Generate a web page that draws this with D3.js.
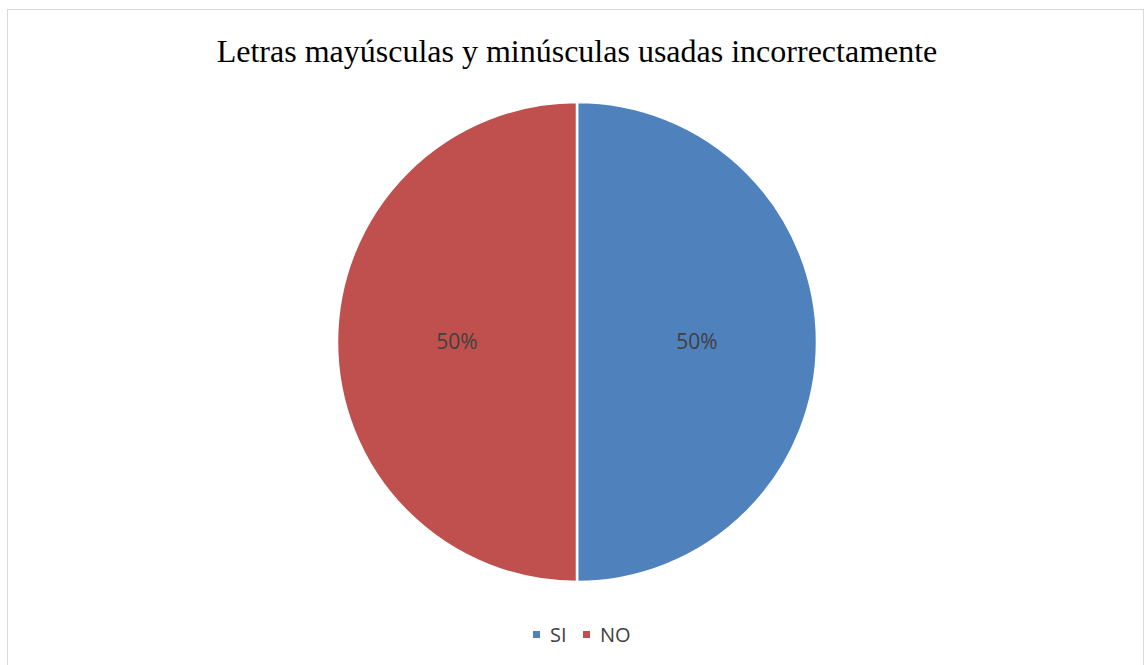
<!DOCTYPE html>
<html><head><meta charset="utf-8">
<script src="https://cdn.jsdelivr.net/npm/d3@7"></script>
<style>body{margin:0;background:#fff;}svg{display:block;}</style>
</head><body>
<svg id="c" width="1146" height="665"></svg>
<script>
const categories = ["SI", "NO"];
const values = [50, 50];
const colors = ["#4F81BD", "#C0504D"];
const title = "Letras mayúsculas y minúsculas usadas incorrectamente";

const svg = d3.select("#c");
svg.append("rect").attr("x", 7.5).attr("y", 9.5).attr("width", 1136).attr("height", 670)
  .attr("fill", "#fff").attr("stroke", "#d9d9d9").attr("stroke-width", 1);

svg.append("text").attr("x", 577).attr("y", 62).attr("text-anchor", "middle")
  .attr("font-family", "'Liberation Serif','Times New Roman',serif").attr("font-size", 32)
  .attr("fill", "#000").text(title);

const cx = 577, cy = 342, r = 240;
const pie = d3.pie().sort(null).value(d => d);
const arcs = pie(values);
const arc = d3.arc().innerRadius(0).outerRadius(r);
const labelArc = d3.arc().innerRadius(r * 0.5).outerRadius(r * 0.5);
const g = svg.append("g").attr("transform", `translate(${cx},${cy})`);
g.selectAll("path").data(arcs).join("path")
  .attr("d", arc).attr("fill", (d, i) => colors[i])
  .attr("stroke", "#fff").attr("stroke-width", 2.5);
const total = d3.sum(values);
g.selectAll("text").data(arcs).join("text")
  .attr("transform", d => `translate(${labelArc.centroid(d)})`)
  .attr("text-anchor", "middle").attr("dy", "0.35em")
  .attr("font-family", "'Open Sans','Noto Sans',sans-serif").attr("font-size", 21)
  .attr("fill", "#404040")
  .text(d => Math.round(d.data / total * 100) + "%");

const legend = svg.append("g");
const items = [{x: 533}, {x: 583}];
categories.forEach((c, i) => {
  legend.append("rect").attr("x", items[i].x).attr("y", 631).attr("width", 7).attr("height", 7).attr("fill", colors[i]);
  legend.append("text").attr("x", items[i].x + 17).attr("y", 642)
    .attr("font-family", "'Open Sans','Noto Sans',sans-serif").attr("font-size", 20)
    .attr("fill", "#404040").text(c);
});
</script>
</body></html>
